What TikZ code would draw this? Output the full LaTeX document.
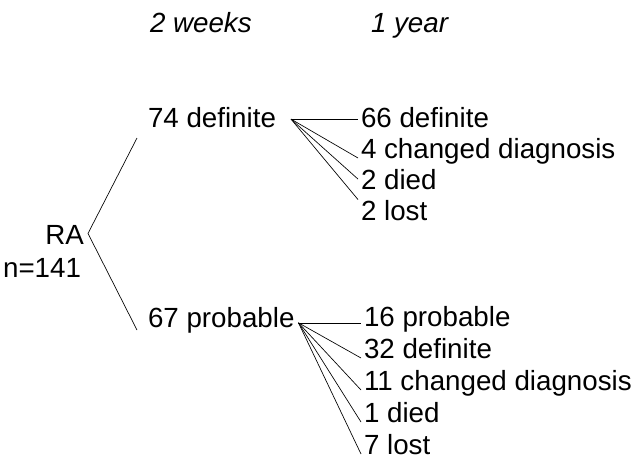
\documentclass[tikz,border=0pt]{standalone}
\usepackage{fontspec}
\setmainfont{Liberation Sans}
\usetikzlibrary{calc}

\tikzset{every picture/.style={line width=0.5pt}}
\tikzset{lbl/.style={inner xsep=2, inner ysep=0, font=\fontsize{20.8}{24}\selectfont}}

\begin{document}
\begin{tikzpicture}[x=0.75pt,y=0.75pt,yscale=-1,xscale=1]
\useasboundingbox (0,0) rectangle (638,461);

\draw (147,32) node (wk) [lbl, anchor=base west] {\textit{2 weeks}};
\draw (368,32) node (yr) [lbl, anchor=base west] {\textit{1 year}};

\draw (87,244) node (ra) [lbl, anchor=base east] {RA};
\draw (84,277) node (nn) [lbl, anchor=base east] {n=141};

\draw (145,127) node (def74) [lbl, anchor=base west] {74 definite};
\draw (145,327) node (prob67) [lbl, anchor=base west] {67 probable};

\draw (358,127) node (d66) [lbl, anchor=base west] {66 definite};
\draw (358,158) node (c4) [lbl, anchor=base west] {4 changed diagnosis};
\draw (358,189) node (died2) [lbl, anchor=base west] {2 died};
\draw (358,220) node (lost2) [lbl, anchor=base west] {2 lost};

\draw (361,326) node (p16) [lbl, anchor=base west] {16 probable};
\draw (361,358) node (d32) [lbl, anchor=base west] {32 definite};
\draw (361,390) node (c11) [lbl, anchor=base west] {11 changed diagnosis};
\draw (361,422) node (died1) [lbl, anchor=base west] {1 died};
\draw (361,454) node (lost7) [lbl, anchor=base west] {7 lost};

\coordinate (apex) at ($(ra.east)+(1,-1)$);
\coordinate (upB) at ($(def74.base west)+(-8,11)$);
\coordinate (loB) at ($(prob67.base west)+(-8,3)$);
\coordinate (fanA) at ($(def74.east)+(12,2)$);
\coordinate (fanB) at ($(prob67.east)+(1,3)$);

% RA split
\draw (upB) -- (apex) -- (loB);

% 2 weeks -> 1 year
\draw (fanA) -- (fanA -| d66.west);
\draw (fanA) -- (c4.base west);
\draw (fanA) -- (died2.west);
\draw (fanA) -- (lost2.north west);

\draw (fanB) -- (fanB -| p16.west);
\draw (fanB) -- (d32.base west);
\draw (fanB) -- (c11.base west);
\draw (fanB) -- (died1.base west);
\draw (fanB) -- (lost7.base west);

\end{tikzpicture}
\end{document}
